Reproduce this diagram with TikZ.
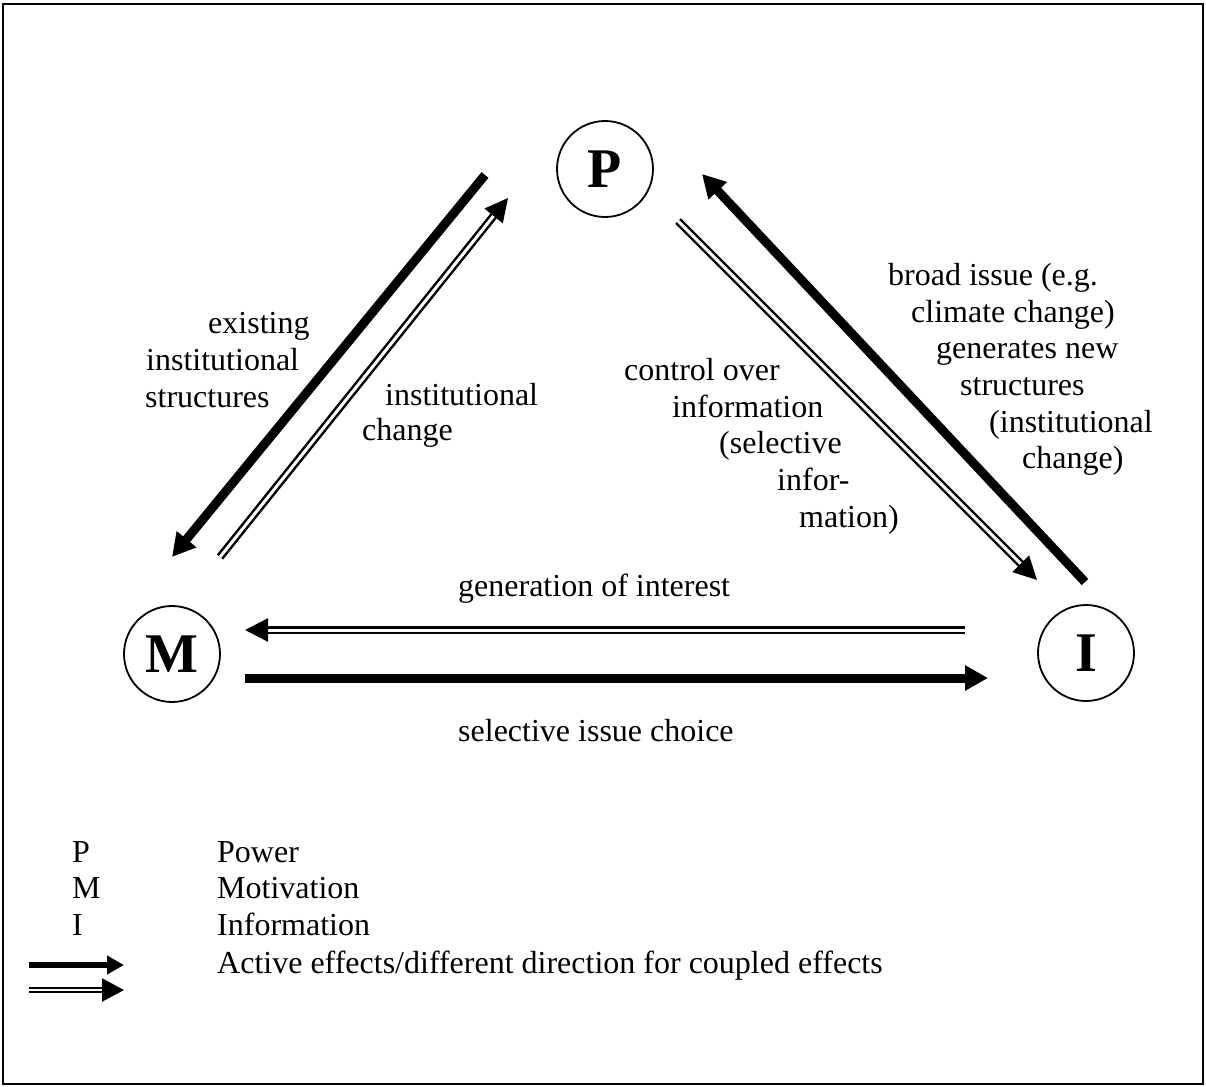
\documentclass[tikz,border=0pt]{standalone}
\usepackage{fontspec}
\setmainfont{Liberation Serif}
\usetikzlibrary{arrows.meta}
\begin{document}
\begin{tikzpicture}[x=1pt,y=-1pt,
  lbl/.style={anchor=base west, inner sep=0pt, font=\fontsize{32}{37}\selectfont},
  letter/.style={circle, draw, line width=1.8pt, minimum size=96pt, inner sep=0pt,
                 font=\fontsize{56}{56}\selectfont\bfseries},
  thickarrow/.style={line width=9pt, -{Triangle[length=23pt,width=24pt]}},
  dblarrow/.style={double, double distance=3pt, line width=2.5pt,
                   -{Triangle[length=23pt,width=23pt]}},
  keythick/.style={line width=6pt, -{Triangle[length=17pt,width=18pt]}},
  keydbl/.style={double, double distance=2.5pt, line width=2.2pt,
                 -{Triangle[length=22pt,width=23pt]}},
]
\useasboundingbox (0,0) rectangle (1206,1086);
\draw[line width=2.5pt] (3,4) rectangle (1203,1084);

% the three poles
\node[letter] (P) at (605,169) {P};
\node[letter] (M) at (172,654) {M};
\node[letter] (I) at (1086,653) {I};

% end points of the connectors
\coordinate (pm1) at (485,175);  \coordinate (pm2) at (172,557);
\coordinate (mp1) at (220,557);  \coordinate (mp2) at (508,198);
\coordinate (ip1) at (1085,582); \coordinate (ip2) at (702,174);
\coordinate (pi1) at (678,221);  \coordinate (pi2) at (1037,580);
\coordinate (im1) at (965,630);  \coordinate (im2) at (245,630);
\coordinate (mi1) at (245,678);  \coordinate (mi2) at (988,678);

\draw[thickarrow] (pm1) -- (pm2);
\draw[dblarrow]   (mp1) -- (mp2);
\draw[thickarrow] (ip1) -- (ip2);
\draw[dblarrow]   (pi1) -- (pi2);
\draw[dblarrow]   (im1) -- (im2);
\draw[thickarrow] (mi1) -- (mi2);

% labels, P--M side
\node[lbl] (l1) at (208,333) {existing};
\node[lbl] (l2) at (146,370) {institutional};
\node[lbl] (l3) at (145,407) {structures};
\node[lbl] (l4) at (385,405) {institutional};
\node[lbl] (l5) at (362,440) {change};

% labels, P--I side
\node[lbl] (r1) at (624,380) {control over};
\node[lbl] (r2) at (672,417) {information};
\node[lbl] (r3) at (719,453) {(selective};
\node[lbl] (r4) at (777,490) {infor-};
\node[lbl] (r5) at (799,527) {mation)};

\node[lbl] (s1) at (888,285) {broad issue (e.g.};
\node[lbl] (s2) at (911,322) {climate change)};
\node[lbl] (s3) at (936,358) {generates new};
\node[lbl] (s4) at (960,395) {structures};
\node[lbl] (s5) at (989,432) {(institutional};
\node[lbl] (s6) at (1022,468) {change)};

% labels, M--I side
\node[lbl] (h1) at (458,596) {generation of interest};
\node[lbl] (h2) at (458,741) {selective issue choice};

% key
\node[lbl] (kP)  at (72,862) {P};
\node[lbl] (kPt) at (217,862) {Power};
\node[lbl] (kM)  at (72,898) {M};
\node[lbl] (kMt) at (217,898) {Motivation};
\node[lbl] (kI)  at (72,935) {I};
\node[lbl] (kIt) at (217,935) {Information};
\node[lbl] (kA)  at (217,973) {Active effects/different direction for coupled effects};

\coordinate (ka1) at (29,965); \coordinate (ka2) at (124,965);
\coordinate (kb1) at (29,990); \coordinate (kb2) at (124,990);
\draw[keythick] (ka1) -- (ka2);
\draw[keydbl]   (kb1) -- (kb2);
\end{tikzpicture}
\end{document}
